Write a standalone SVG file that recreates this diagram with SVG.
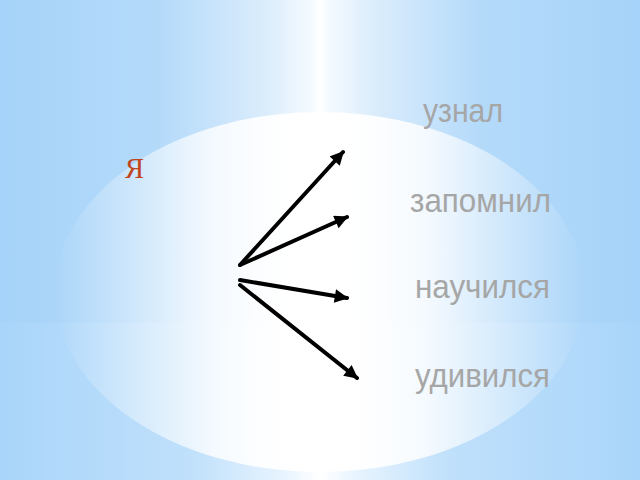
<svg xmlns="http://www.w3.org/2000/svg" width="640" height="480" viewBox="0 0 640 480">
  <defs>
    <linearGradient id="bg" x1="0" y1="0" x2="1" y2="0">
      <stop offset="0" stop-color="#a6d3f9"/>
      <stop offset="0.25" stop-color="#b4dafa"/>
      <stop offset="0.42" stop-color="#dcedfc"/>
      <stop offset="0.49" stop-color="#f6fbff"/>
      <stop offset="0.5" stop-color="#ffffff"/>
      <stop offset="0.51" stop-color="#f6fbff"/>
      <stop offset="0.58" stop-color="#dcedfc"/>
      <stop offset="0.75" stop-color="#b4dafa"/>
      <stop offset="1" stop-color="#a6d3f9"/>
    </linearGradient>
    <linearGradient id="bg2" x1="0" y1="0" x2="1" y2="0">
      <stop offset="0" stop-color="#a9d5fa"/>
      <stop offset="0.3" stop-color="#c0e0fb"/>
      <stop offset="0.45" stop-color="#eaf5ff"/>
      <stop offset="0.5" stop-color="#ffffff"/>
      <stop offset="0.55" stop-color="#eaf5ff"/>
      <stop offset="0.7" stop-color="#c0e0fb"/>
      <stop offset="1" stop-color="#a9d5fa"/>
    </linearGradient>
    <linearGradient id="ell" x1="0" y1="0" x2="1" y2="0">
      <stop offset="0" stop-color="#ffffff" stop-opacity="0"/>
      <stop offset="0.12" stop-color="#ffffff" stop-opacity="0.3"/>
      <stop offset="0.3" stop-color="#ffffff" stop-opacity="0.8"/>
      <stop offset="0.45" stop-color="#ffffff" stop-opacity="1"/>
      <stop offset="0.55" stop-color="#ffffff" stop-opacity="1"/>
      <stop offset="0.7" stop-color="#ffffff" stop-opacity="0.8"/>
      <stop offset="0.88" stop-color="#ffffff" stop-opacity="0.3"/>
      <stop offset="1" stop-color="#ffffff" stop-opacity="0"/>
    </linearGradient>
    <marker id="ah" viewBox="0 0 10 10" refX="9" refY="5" markerWidth="3.6" markerHeight="3.4" orient="auto" markerUnits="strokeWidth">
      <path d="M0,0 L10,5 L0,10 Z" fill="#000"/>
    </marker>
    <style>
      .lbl { font-family: "Liberation Sans", Arial, sans-serif; font-size: 33px; fill: #a6a6a6; }
      .me { font-family: "Liberation Serif", "Times New Roman", serif; font-size: 30px; fill: #c2441d; }
      .arr { stroke: #000; stroke-width: 4; fill: none; stroke-linecap: round; marker-end: url(#ah); }
    </style>
  </defs>
  <g id="background">
    <rect x="0" y="0" width="640" height="323" fill="url(#bg)"/>
    <rect x="0" y="323" width="640" height="157" fill="url(#bg2)"/>
    <ellipse cx="320" cy="292" rx="265" ry="180" fill="url(#ell)"/>
  </g>
  <g id="node-me"><text class="me" x="125" y="178" textLength="19" lengthAdjust="spacingAndGlyphs">Я</text></g>
  <g id="node-uznal"><text class="lbl" x="423" y="122" textLength="80" lengthAdjust="spacingAndGlyphs">узнал</text></g>
  <g id="node-zapomnil"><text class="lbl" x="410" y="212" textLength="141" lengthAdjust="spacingAndGlyphs">запомнил</text></g>
  <g id="node-nauchilsya"><text class="lbl" x="415" y="298" textLength="135" lengthAdjust="spacingAndGlyphs">научился</text></g>
  <g id="node-udivilsya"><text class="lbl" x="415" y="387" textLength="135" lengthAdjust="spacingAndGlyphs">удивился</text></g>
  <g id="connectors">
    <line class="arr" x1="240" y1="265" x2="343" y2="152"/>
    <line class="arr" x1="240" y1="265" x2="347" y2="217"/>
    <line class="arr" x1="240" y1="280" x2="347" y2="298"/>
    <line class="arr" x1="240" y1="285" x2="357" y2="378"/>
  </g>
</svg>
